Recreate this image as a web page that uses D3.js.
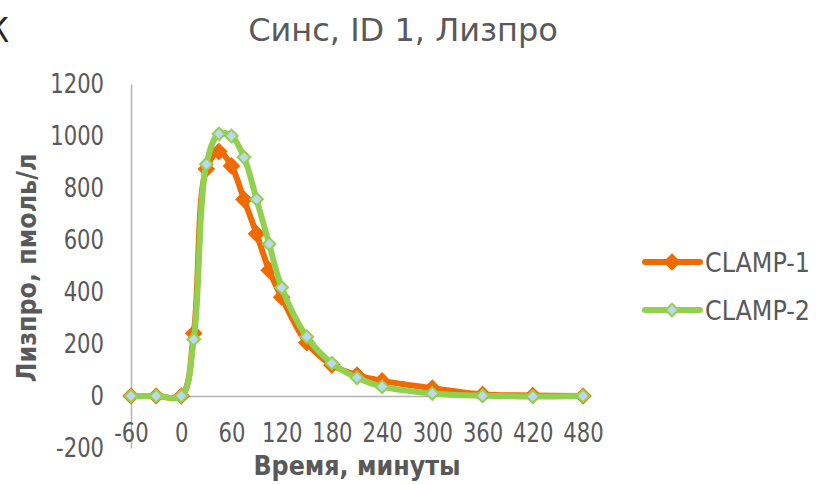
<!DOCTYPE html>
<html>
<head>
<meta charset="utf-8">
<script src="https://cdn.jsdelivr.net/npm/d3@7"></script>
<style>
  body { margin: 0; background: #fff; }
  svg text { font-family: "DejaVu Sans Condensed", "DejaVu Sans", sans-serif; font-stretch: condensed; fill: #595959; }
</style>
</head>
<body>
<script>
// data
var times  = [-60, -30, 0, 15, 30, 45, 60, 75, 90, 105, 120, 150, 180, 210, 240, 300, 360, 420, 480];
var clamp1 = [0, 0, 0, 241, 873, 940, 885, 756, 624, 484, 380, 205, 119, 80, 58, 30, 6, 2, 0];
var clamp2 = [0, 0, 0, 218, 891, 1008, 1000, 918, 757, 585, 417, 228, 126, 70, 36, 10, 1, -2, 0];
var seriesNames = ["CLAMP-1", "CLAMP-2"];
var xTicks = [-60, 0, 60, 120, 180, 240, 300, 360, 420, 480];
var yTicks = [-200, 0, 200, 400, 600, 800, 1000, 1200];

var width = 835, height = 484;

var svg = d3.select("body").append("svg")
    .attr("width", width)
    .attr("height", height);

var x = d3.scaleLinear().domain([-60, 480]).range([131, 583]);
var y = d3.scaleLinear().domain([-200, 1200]).range([448, 84]);

// panel letter, cut off at the left edge as in the source
svg.append("text")
    .attr("x", 9).attr("y", 42)
    .attr("text-anchor", "end")
    .style("font-size", "34px")
    .style("fill", "#262626")
    .text("К");

// title
svg.append("text")
    .attr("x", 403).attr("y", 41)
    .attr("text-anchor", "middle")
    .style("font-size", "32px")
    .style("font-stretch", "normal")
    .style("font-family", "'DejaVu Sans', sans-serif")
    .text("Синс, ID 1, Лизпро");

// axes
var fmt = function(d) { return String(d); };

svg.append("g")
    .attr("transform", "translate(" + x(-60) + ",0)")
    .call(d3.axisLeft(y).tickValues(yTicks).tickFormat(fmt)
      .tickSize(0).tickSizeOuter(0).tickPadding(27));

svg.append("g")
    .attr("class", "xaxis")
    .attr("transform", "translate(0," + y(0) + ")")
    .call(d3.axisBottom(x).tickValues(xTicks).tickFormat(fmt)
      .tickSize(0).tickSizeOuter(0).tickPadding(24));

svg.selectAll(".domain").attr("stroke", "#b3b3b3").attr("stroke-width", 1.5);
svg.selectAll(".tick text")
    .style("font-size", "23.5px")
    .attr("fill", "#595959")
    .attr("transform", "scale(1,1.14)");

// axis titles
svg.append("text")
    .attr("transform", "translate(36,268) rotate(-90)")
    .attr("text-anchor", "middle")
    .style("font-size", "26.5px")
    .style("font-weight", "bold")
    .text("Лизпро, пмоль/л");

svg.append("text")
    .attr("x", 357).attr("y", 475)
    .attr("text-anchor", "middle")
    .style("font-size", "26.5px")
    .style("font-weight", "bold")
    .text("Время, минуты");

// series
var series = [
  { name: seriesNames[0], values: clamp1, color: "#ef6a00", fill: "#ef6a00", msize: 110 },
  { name: seriesNames[1], values: clamp2, color: "#92d050", fill: "#bdd7ee", msize: 80 }
];

var line = d3.line()
    .x(function(d) { return x(d[0]); })
    .y(function(d) { return y(d[1]); })
    .curve(d3.curveCatmullRom.alpha(0.5));

series.forEach(function(s) {
  var pts = times.map(function(t, i) { return [t, s.values[i]]; });
  svg.append("path")
      .datum(pts)
      .attr("d", line)
      .attr("fill", "none")
      .attr("stroke", s.color)
      .attr("stroke-width", 6)
      .attr("stroke-linejoin", "round");

  svg.selectAll(null)
      .data(pts)
      .enter().append("path")
      .attr("d", d3.symbol(d3.symbolSquare, s.msize))
      .attr("transform", function(d) { return "translate(" + x(d[0]) + "," + y(d[1]) + ") rotate(45)"; })
      .attr("fill", s.fill)
      .attr("stroke", s.color)
      .attr("stroke-width", 2);
});

// legend
var legend = svg.append("g");
series.forEach(function(s, i) {
  var ly = 262 + i * 48;
  legend.append("line")
      .attr("x1", 645).attr("x2", 700)
      .attr("y1", ly).attr("y2", ly)
      .attr("stroke", s.color)
      .attr("stroke-width", 6)
      .attr("stroke-linecap", "round");
  legend.append("path")
      .attr("d", d3.symbol(d3.symbolSquare, s.msize))
      .attr("transform", "translate(672," + ly + ") rotate(45)")
      .attr("fill", s.fill)
      .attr("stroke", s.color)
      .attr("stroke-width", 2);
  legend.append("text")
      .attr("x", 705).attr("y", ly)
      .attr("dy", "0.36em")
      .style("font-size", "26.5px")
      .text(s.name);
});
</script>
</body>
</html>
